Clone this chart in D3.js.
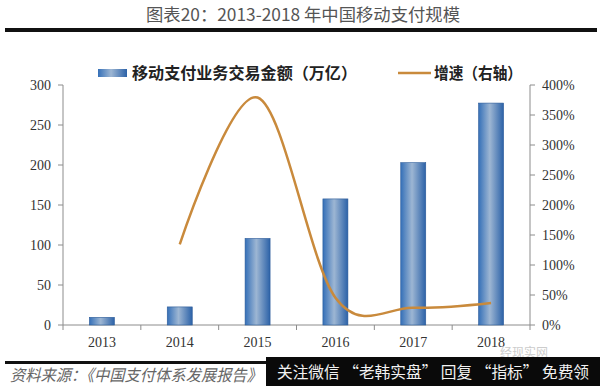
<!DOCTYPE html>
<html>
<head>
<meta charset="utf-8">
<title>2013-2018年中国移动支付规模</title>
<style>
  body { margin: 0; background: #fff; }
  svg { display: block; }
  .tickText { font: 14px "Liberation Serif", serif; fill: #333; }
  .axisLine { stroke: #8c8c8c; stroke-width: 1px; }
  .legendText { font: bold 16px "Noto Sans CJK SC", sans-serif; fill: #222; }
</style>
<script src="https://d3js.org/d3.v7.min.js"></script>
</head>
<body>
<svg width="600" height="386"></svg>
<script>
// data
var years = ["2013", "2014", "2015", "2016", "2017", "2018"];
var amount = [9.6, 22.6, 108.2, 157.6, 202.9, 277.4];   // 万亿
var growth = [null, 134.3, 379.1, 45.6, 28.8, 36.7];   // %
var leftTicks = [0, 50, 100, 150, 200, 250, 300];
var rightTicks = [0, 50, 100, 150, 200, 250, 300, 350, 400];

var svg = d3.select("svg");

var x = d3.scaleBand().domain(years).range([63, 530]);
var yL = d3.scaleLinear().domain([0, 300]).range([325, 85]);
var yR = d3.scaleLinear().domain([0, 400]).range([325, 85]);

// title + rule
svg.append("text")
  .attr("x", 146).attr("y", 21)
  .attr("textLength", 314).attr("lengthAdjust", "spacingAndGlyphs")
  .style("font", "17px 'Noto Sans CJK SC', sans-serif")
  .style("fill", "#555")
  .text("图表20：2013-2018 年中国移动支付规模");
svg.append("rect").attr("x", 5).attr("y", 28).attr("width", 592).attr("height", 4).attr("fill", "#111");

// bar gradient
var grad = svg.append("defs").append("linearGradient")
  .attr("id", "barGrad").attr("x1", "0%").attr("x2", "100%").attr("y1", "0%").attr("y2", "0%");
grad.append("stop").attr("offset", "0%").attr("stop-color", "#3570b8");
grad.append("stop").attr("offset", "45%").attr("stop-color", "#9db6d3");
grad.append("stop").attr("offset", "100%").attr("stop-color", "#2c62a8");

// axes
svg.append("line").attr("class", "axisLine").attr("x1", 63).attr("y1", 85).attr("x2", 63).attr("y2", 325);
svg.append("line").attr("class", "axisLine").attr("x1", 530).attr("y1", 85).attr("x2", 530).attr("y2", 325);
svg.append("line").attr("class", "axisLine").attr("x1", 63).attr("y1", 325).attr("x2", 530).attr("y2", 325);

svg.selectAll("line.lt").data(leftTicks).enter().append("line")
  .attr("class", "axisLine lt")
  .attr("x1", 58).attr("x2", 63)
  .attr("y1", function(d) { return yL(d); })
  .attr("y2", function(d) { return yL(d); });
svg.selectAll("text.lt").data(leftTicks).enter().append("text")
  .attr("class", "tickText lt")
  .attr("x", 51).attr("text-anchor", "end")
  .attr("y", function(d) { return yL(d) + 5; })
  .text(function(d) { return d; });

svg.selectAll("line.rt").data(rightTicks).enter().append("line")
  .attr("class", "axisLine rt")
  .attr("x1", 530).attr("x2", 535)
  .attr("y1", function(d) { return yR(d); })
  .attr("y2", function(d) { return yR(d); });
svg.selectAll("text.rt").data(rightTicks).enter().append("text")
  .attr("class", "tickText rt")
  .attr("x", 542)
  .attr("y", function(d) { return yR(d) + 5; })
  .text(function(d) { return d + "%"; });

var bounds = years.map(function(d) { return x(d); }).concat([x.range()[1]]);
svg.selectAll("line.xt").data(bounds).enter().append("line")
  .attr("class", "axisLine xt")
  .attr("x1", function(d) { return d; }).attr("x2", function(d) { return d; })
  .attr("y1", 325).attr("y2", 330);
svg.selectAll("text.xt").data(years).enter().append("text")
  .attr("class", "tickText xt")
  .attr("text-anchor", "middle")
  .attr("x", function(d) { return x(d) + x.bandwidth() / 2; })
  .attr("y", 347)
  .text(function(d) { return d; });

// bars
var barW = 25;
svg.selectAll("rect.bar").data(amount).enter().append("rect")
  .attr("class", "bar")
  .attr("x", function(d, i) { return x(years[i]) + x.bandwidth() / 2 - barW / 2; })
  .attr("y", function(d) { return yL(d); })
  .attr("width", barW)
  .attr("height", function(d) { return yL(0) - yL(d); })
  .attr("fill", "url(#barGrad)")
  .attr("stroke", "#2b5a98").attr("stroke-width", 0.6);

// growth line (smoothed)
var pts = growth.map(function(d, i) { return { yr: years[i], v: d }; })
  .filter(function(p) { return p.v !== null; });
var line = d3.line()
  .x(function(p) { return x(p.yr) + x.bandwidth() / 2; })
  .y(function(p) { return yR(p.v); })
  .curve(d3.curveCardinal.tension(0));
svg.append("path").datum(pts)
  .attr("d", line)
  .attr("fill", "none")
  .attr("stroke", "#c98a3c")
  .attr("stroke-width", 2.5);

// legend
svg.append("rect").attr("x", 98).attr("y", 69).attr("width", 29).attr("height", 8).attr("fill", "url(#barGrad)");
svg.append("text").attr("class", "legendText").attr("x", 132).attr("y", 79)
  .attr("textLength", 225).attr("lengthAdjust", "spacingAndGlyphs")
  .text("移动支付业务交易金额（万亿）");
svg.append("line").attr("x1", 398).attr("x2", 431).attr("y1", 73).attr("y2", 73)
  .attr("stroke", "#c98a3c").attr("stroke-width", 2.5);
svg.append("text").attr("class", "legendText").attr("x", 434).attr("y", 79)
  .attr("textLength", 88).attr("lengthAdjust", "spacingAndGlyphs")
  .text("增速（右轴）");

// footer
svg.append("rect").attr("x", 5).attr("y", 361).attr("width", 270).attr("height", 3).attr("fill", "#111");
svg.append("text")
  .attr("x", 10).attr("y", 381)
  .attr("textLength", 252).attr("lengthAdjust", "spacingAndGlyphs")
  .style("font", "italic 16px 'Noto Sans CJK SC', sans-serif")
  .style("fill", "#666")
  .text("资料来源：《中国支付体系发展报告》");
svg.append("text")
  .attr("x", 500).attr("y", 357)
  .style("font", "12px 'Noto Sans CJK SC', sans-serif")
  .style("fill", "#ccc")
  .text("经现实网");
svg.append("rect").attr("x", 266).attr("y", 357).attr("width", 334).attr("height", 29).attr("fill", "#0a0a0a");
svg.append("text")
  .attr("x", 277).attr("y", 378)
  .attr("textLength", 312).attr("lengthAdjust", "spacingAndGlyphs")
  .style("font", "16px 'Noto Sans CJK SC', sans-serif")
  .style("fill", "#f2f2f2")
  .text("关注微信 “老韩实盘” 回复 “指标” 免费领");
</script>
</body>
</html>
